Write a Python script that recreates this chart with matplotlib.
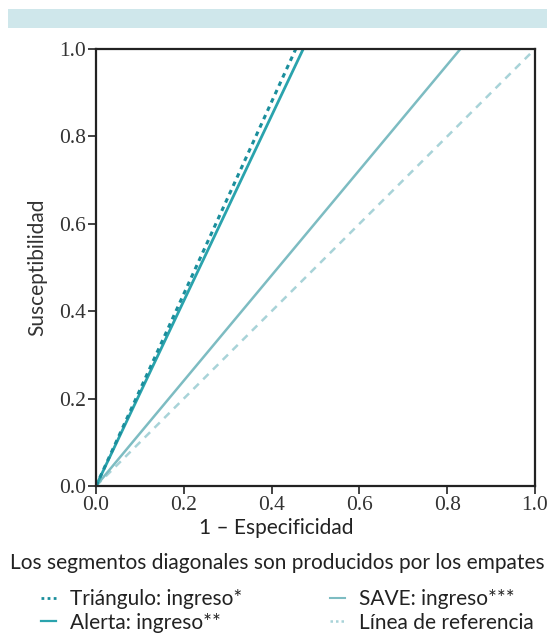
import matplotlib
matplotlib.use("Agg")
import matplotlib.pyplot as plt
from matplotlib.lines import Line2D
from matplotlib.patches import Rectangle

# Data
series_names = ["Triángulo: ingreso*", "Alerta: ingreso**", "SAVE: ingreso***", "Línea de referencia"]
tri_x = [0.0, 0.455]
tri_y = [0.0, 1.0]
ale_x = [0.0, 0.472]
ale_y = [0.0, 1.0]
save_x = [0.0, 0.830]
save_y = [0.0, 1.0]
ref_x = [0.0, 1.0]
ref_y = [0.0, 1.0]
ticks = [0.0, 0.2, 0.4, 0.6, 0.8, 1.0]
tick_labels = ["0.0", "0.2", "0.4", "0.6", "0.8", "1.0"]

c_tri = "#1a8e9c"
c_ale = "#2aa3ad"
c_save = "#7dbcc2"
c_ref = "#a8d3d8"

fig = plt.figure(figsize=(5.47, 6.33), dpi=100)
fig.patches.append(Rectangle((8/547, 1-28/633), 1-8/547, 19/633, transform=fig.transFigure,
                             facecolor="#cfe7eb", edgecolor="none"))
ax = fig.add_axes([96/547, 1-486/633, 439/547, 437/633])

ax.plot(ref_x, ref_y, color=c_ref, lw=1.8, linestyle=(0, (3, 2.5)))
ax.plot(save_x, save_y, color=c_save, lw=1.8)
ax.plot(ale_x, ale_y, color=c_ale, lw=2.0)
ax.plot(tri_x, tri_y, color=c_tri, lw=2.2, linestyle=(0, (1.5, 1.5)))

ax.set_xlim(0, 1)
ax.set_ylim(0, 1)
ax.set_xticks(ticks)
ax.set_xticklabels(tick_labels)
ax.set_yticks(ticks)
ax.set_yticklabels(tick_labels)
for lab in ax.get_xticklabels() + ax.get_yticklabels():
    lab.set_fontfamily("Liberation Serif")
    lab.set_fontsize(15.5)
    lab.set_color("#333333")
ax.tick_params(direction="out", length=6, width=1.2, color="#222222", pad=1)
for s in ax.spines.values():
    s.set_linewidth(1.6)
    s.set_color("#222222")

sans = "Lato"
ax.set_ylabel("Susceptibilidad", fontfamily=sans, fontsize=15, color="#333333", labelpad=9)
fig.text(276/547, 1 - 528/633, "1 – Especificidad", ha="center", va="center",
         fontfamily=sans, fontsize=15, color="#222222")
fig.text(277/547, 1 - 563/633, "Los segmentos diagonales son producidos por los empates", ha="center",
         va="center", fontfamily=sans, fontsize=15.0, color="#222222")

handles = [
    Line2D([], [], color=c_tri, lw=2.0, linestyle=(0, (1, 1.2))),
    Line2D([], [], color=c_ale, lw=1.6),
    Line2D([], [], color=c_save, lw=1.5),
    Line2D([], [], color=c_ref, lw=1.8, linestyle=(0, (1, 1.2))),
]
leg = fig.legend(handles, series_names, loc="center left", bbox_to_anchor=(22/547, 1 - 611/633),
                 ncol=2, frameon=False, handlelength=0.75, handletextpad=0.65, columnspacing=4.2,
                 labelspacing=0.15, prop={"family": sans, "size": 15})
for t in leg.get_texts():
    t.set_color("#222222")

fig.savefig("out.png", dpi=100)
